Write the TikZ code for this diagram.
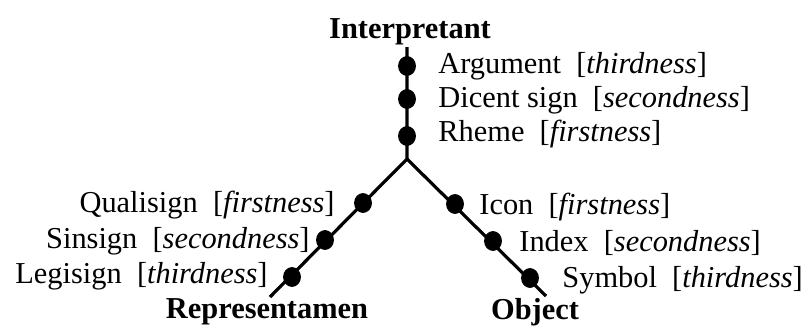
\documentclass[tikz,border=0pt]{standalone}
\usepackage{fontspec}
\setmainfont{Liberation Serif}
\usetikzlibrary{positioning, shapes.geometric}

\begin{document}
\begin{tikzpicture}[
    x=0.5pt, y=-0.5pt,
    every node/.style={font=\fontsize{15.2}{18}\selectfont},
    bead/.style={draw, fill=black, ellipse, inner sep=0pt, minimum width=8.5pt, minimum height=9.5pt},
    axis/.style={line width=1.6pt},
    pole/.style={font=\fontsize{15.2}{18}\selectfont\bfseries, inner sep=0pt},
    lab/.style={inner sep=0pt}
]
\useasboundingbox (0,0) rectangle (808,327);

% Branches of the sign
\coordinate (top) at (407,47);
\coordinate (fork) at (407,159);
\coordinate (rend) at (270,297);
\coordinate (oend) at (546,296);
\draw[axis] (top) -- (fork) -- (rend);
\draw[axis] (fork) -- (oend);

% Interpretant
\node[pole, anchor=base] (interp) at (410,38) {Interpretant};
\node[bead] (arg) at (407,66) {};
\node[bead] (dic) at (407,99) {};
\node[bead] (rhe) at (407,136) {};
\node[lab, anchor=base west] (argl) at (438,73) {Argument\enspace[\textit{thirdness}]};
\node[lab, anchor=base west] (dicl) at (438,107) {Dicent sign\enspace[\textit{secondness}]};
\node[lab, anchor=base west] (rhel) at (438,141) {Rheme\enspace[\textit{firstness}]};

% Representamen
\node[bead] (qual) at (363,203) {};
\node[bead] (sin) at (325,240) {};
\node[bead] (leg) at (292,277) {};
\node[lab, anchor=base east] (quall) at (335,212) {Qualisign\enspace[\textit{firstness}]};
\node[lab, anchor=base east] (sinl) at (310,248) {Sinsign\enspace[\textit{secondness}]};
\node[lab, anchor=base east] (legl) at (268,283) {Legisign\enspace[\textit{thirdness}]};
\node[pole, anchor=base] (repr) at (267,318) {Representamen};

% Object
\node[bead] (icon) at (455,204) {};
\node[bead] (index) at (493,241) {};
\node[bead] (symb) at (530,278) {};
\node[lab, anchor=base west] (iconl) at (479,214) {Icon\enspace[\textit{firstness}]};
\node[lab, anchor=base west] (indexl) at (519,251) {Index\enspace[\textit{secondness}]};
\node[lab, anchor=base west] (symbl) at (562,287) {Symbol\enspace[\textit{thirdness}]};
\node[pole, anchor=base] (obj) at (535,319) {Object};

\end{tikzpicture}
\end{document}
